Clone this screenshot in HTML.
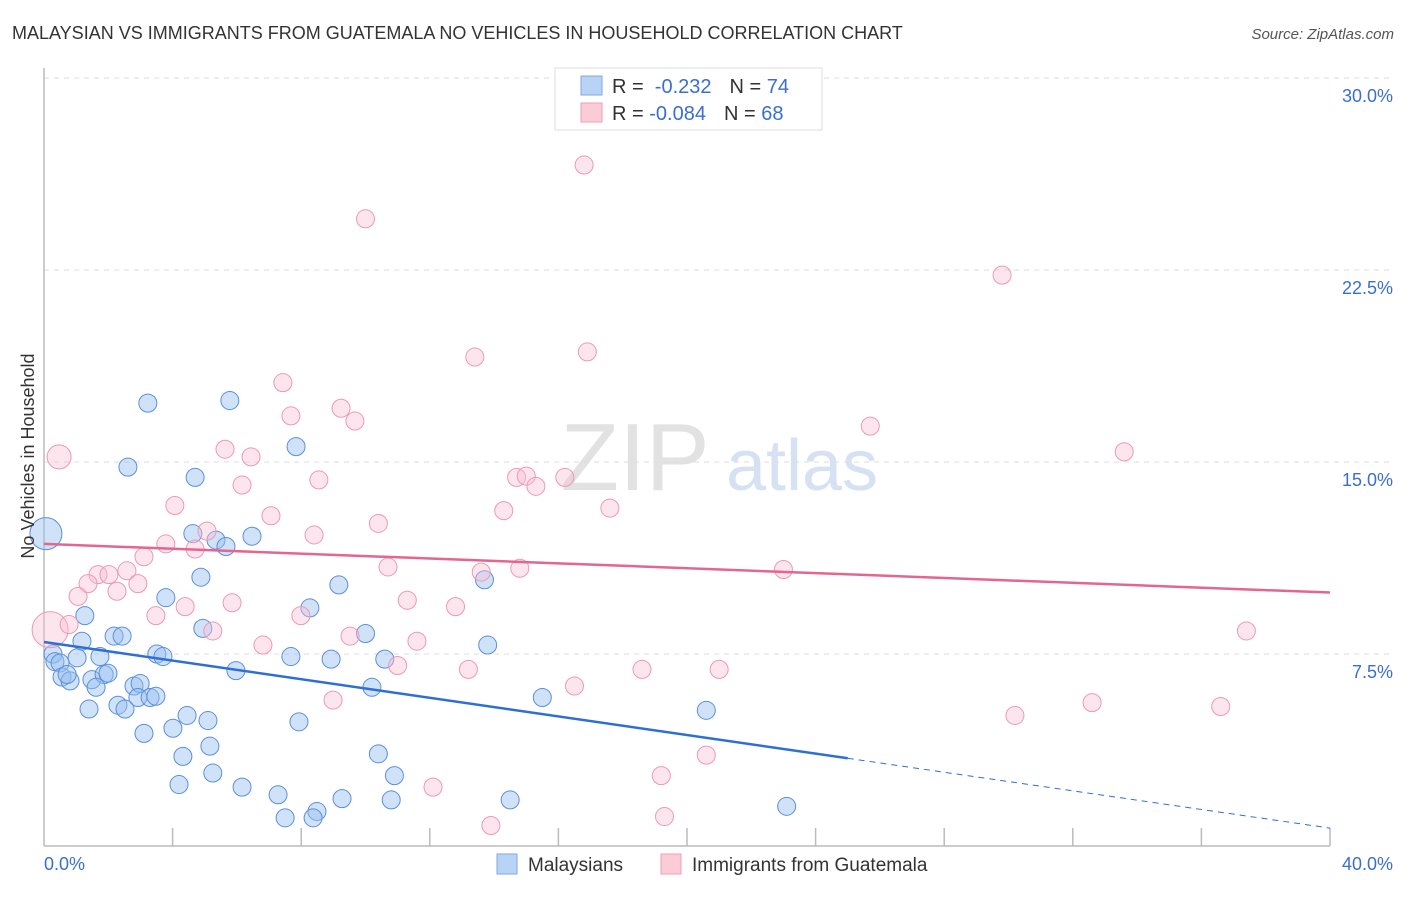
<!DOCTYPE html>
<html><head><meta charset="utf-8"><style>
body{margin:0;background:#fff;font-family:"Liberation Sans",sans-serif}
svg text{font-family:"Liberation Sans",sans-serif}
</style></head><body>
<svg id="c" width="1406" height="892" xmlns="http://www.w3.org/2000/svg">
<text x="12" y="39" font-size="18" fill="#333">MALAYSIAN VS IMMIGRANTS FROM GUATEMALA NO VEHICLES IN HOUSEHOLD CORRELATION CHART</text>
<text x="1394" y="39" font-size="15" fill="#555" font-style="italic" text-anchor="end">Source: ZipAtlas.com</text>
<g>
<text x="635" y="490" font-size="96" font-family="Liberation Serif,serif" fill="#e2e2e2" text-anchor="middle">ZIP</text>
<text x="802" y="490" font-size="72" fill="#d6e2f3" text-anchor="middle">atlas</text>
</g>
<g id="grid"></g>
<g id="axes"></g>
<g id="pts"></g>
<g id="trend"></g>
<text transform="translate(34,456) rotate(-90)" font-size="18" fill="#333" text-anchor="middle">No Vehicles in Household</text>
<g>
<rect x="555" y="68" width="267" height="62" fill="#fff" stroke="#ddd"/>
<rect x="581" y="76" width="21" height="19" fill="#b9d3f5" stroke="#7fa9e6"/>
<rect x="581" y="103" width="21" height="19" fill="#fbcbd8" stroke="#ee9fb6"/>
<text x="612" y="93" font-size="20" fill="#333">R = <tspan fill="#3a6fd0">&#160;-0.232</tspan><tspan dx="18">N = </tspan><tspan fill="#3a6fd0">74</tspan></text>
<text x="612" y="120" font-size="20" fill="#333">R = <tspan fill="#3a6fd0">-0.084</tspan><tspan dx="18">N = </tspan><tspan fill="#3a6fd0">68</tspan></text>
</g>
<g>
<rect x="497" y="854" width="20" height="20" fill="#b9d3f5" stroke="#7fa9e6"/>
<text x="528" y="871" font-size="19" fill="#333">Malaysians</text>
<rect x="661" y="854" width="20" height="20" fill="#fbcbd8" stroke="#ee9fb6"/>
<text x="692" y="871" font-size="19" fill="#333">Immigrants from Guatemala</text>
</g>
</svg>
<script>
const yTicks=[7.5,15,22.5,30];
const yTickLabels=["7.5%","15.0%","22.5%","30.0%"];
const xTickLabels=["0.0%","40.0%"];
const blueX=[3.23,5.78,2.61,4.70,7.84,0.06,4.63,5.35,5.66,6.47,4.88,9.17,13.7,3.79,1.27,8.27,4.94,2.18,2.43,10.0,1.18,13.8,0.28,0.34,0.5,1.74,1.03,3.51,3.70,7.68,8.93,10.6,5.97,0.56,0.81,0.72,1.49,1.87,1.99,1.62,2.80,2.99,10.2,2.92,3.3,3.48,15.5,1.40,2.30,2.52,4.45,5.10,7.93,20.6,4.01,3.11,5.16,4.32,10.4,5.25,10.9,4.2,6.16,7.28,9.27,10.8,14.5,8.49,23.1,7.5,8.37];
const blueY=[17.3,17.4,14.8,14.4,15.6,12.2,12.2,11.95,11.7,12.1,10.5,10.2,10.4,9.7,9.0,9.3,8.5,8.2,8.2,8.3,8.0,7.85,7.5,7.2,7.15,7.4,7.35,7.5,7.4,7.4,7.3,7.3,6.85,6.6,6.45,6.7,6.5,6.7,6.75,6.2,6.25,6.35,6.2,5.8,5.8,5.85,5.8,5.35,5.5,5.35,5.1,4.9,4.85,5.3,4.6,4.4,3.9,3.5,3.6,2.85,2.75,2.4,2.3,2.0,1.85,1.8,1.8,1.35,1.55,1.1,1.1];
const blueR=[9,9,9,9,9,16,9,9,9,9,9,9,9,9,9,9,9,9,9,9,9,9,9,9,9,9,9,9,9,9,9,9,9,9,9,9,9,9,9,9,9,9,9,9,9,9,9,9,9,9,9,9,9,9,9,9,9,9,9,9,9,9,9,9,9,9,9,9,9,9,9];
const pinkX=[16.8,10.0,29.8,16.9,13.4,7.43,9.24,7.68,9.67,25.7,5.63,6.44,0.47,33.6,8.55,6.16,14.7,15.0,15.3,16.2,4.07,14.3,17.6,7.06,10.4,5.07,8.40,3.79,4.70,3.11,10.7,13.6,14.8,23.0,1.68,2.02,2.58,1.37,2.92,2.27,1.06,4.39,5.85,11.3,12.8,3.48,7.99,0.19,0.78,5.25,9.52,11.6,6.81,37.4,11.0,13.2,18.6,21.0,16.5,8.99,32.6,36.6,30.2,20.6,19.2,12.1,19.3,13.9];
const pinkY=[26.6,24.5,22.3,19.3,19.1,18.1,17.1,16.8,16.6,16.4,15.5,15.2,15.2,15.4,14.3,14.1,14.4,14.45,14.05,14.4,13.3,13.1,13.2,12.9,12.6,12.3,12.15,11.8,11.6,11.3,10.9,10.7,10.85,10.8,10.6,10.6,10.75,10.25,10.25,9.95,9.75,9.35,9.5,9.6,9.35,9.0,9.0,8.45,8.65,8.4,8.2,8.0,7.85,8.4,7.05,6.9,6.9,6.9,6.25,5.7,5.6,5.45,5.1,3.55,2.75,2.3,1.15,0.8];
const pinkR=[9,9,9,9,9,9,9,9,9,9,9,9,12,9,9,9,9,9,9,9,9,9,9,9,9,9,9,9,9,9,9,9,9,9,9,9,9,9,9,9,9,9,9,9,9,9,9,18,9,9,9,9,9,9,9,9,9,9,9,9,9,9,9,9,9,9,9,9];
const blueTrend=[7.97,0.7];
const pinkTrend=[11.8,9.9];
const NS="http://www.w3.org/2000/svg";
const X0=44,X1=1330,Y0=846,YS=192/7.5;
const sx=v=>X0+(v/40)*(X1-X0), sy=v=>Y0-v*YS;
function mk(tag,attrs,parent){const e=document.createElementNS(NS,tag);for(const k in attrs)e.setAttribute(k,attrs[k]);document.getElementById(parent).appendChild(e);return e;}
yTicks.forEach((t,i)=>{
 const l=mk('line',{x1:X0,x2:1393,y1:sy(t),y2:sy(t),stroke:'#ddd','stroke-dasharray':'5,5'},'grid');
 
 
 const tx=mk('text',{x:1393,y:sy(t)+24,'font-size':18,fill:'#3a6fd0','text-anchor':'end'},'grid');
 tx.textContent=yTickLabels[i];
 
 
});
let ax=mk('line',{x1:X0,x2:X0,y1:68,y2:Y0,stroke:'#bbb','stroke-width':1.5},'axes');


ax=mk('line',{x1:X0,x2:X1,y1:Y0,y2:Y0,stroke:'#bbb','stroke-width':1.5},'axes');


for(let i=1;i<=10;i++){const t=mk('line',{x1:sx(i*4),x2:sx(i*4),y1:Y0,y2:Y0-18,stroke:'#bbb','stroke-width':1.5},'axes');
 
 }
[[0,'start',X0],[1,'end',1393]].forEach(([i,a,x])=>{const t=mk('text',{x:x,y:870,'font-size':18,fill:'#3a6fd0','text-anchor':a},'axes');t.textContent=xTickLabels[i];
 
 });
blueX.forEach((v,i)=>{const c=mk('circle',{cx:sx(v),cy:sy(blueY[i]),r:blueR[i],fill:'rgba(150,190,240,0.45)',stroke:'#5b8fdc','stroke-width':1},'pts');
 
 });
pinkX.forEach((v,i)=>{const c=mk('circle',{cx:sx(v),cy:sy(pinkY[i]),r:pinkR[i],fill:'rgba(250,190,210,0.4)',stroke:'#eb9ab3','stroke-width':1},'pts');
 
 });
const bAt=x=>blueTrend[0]+(blueTrend[1]-blueTrend[0])*x/40;
let l=mk('line',{x1:sx(0),y1:sy(bAt(0)),x2:sx(25),y2:sy(bAt(25)),stroke:'#2e6fd6','stroke-width':2.5},'trend');


l=mk('line',{x1:sx(25),y1:sy(bAt(25)),x2:sx(40),y2:sy(bAt(40)),stroke:'#2e6fd6','stroke-width':1,'stroke-dasharray':'6,5'},'trend');


l=mk('line',{x1:sx(0),y1:sy(pinkTrend[0]),x2:sx(40),y2:sy(pinkTrend[1]),stroke:'#e46590','stroke-width':2.5},'trend');


</script>
</body></html>
